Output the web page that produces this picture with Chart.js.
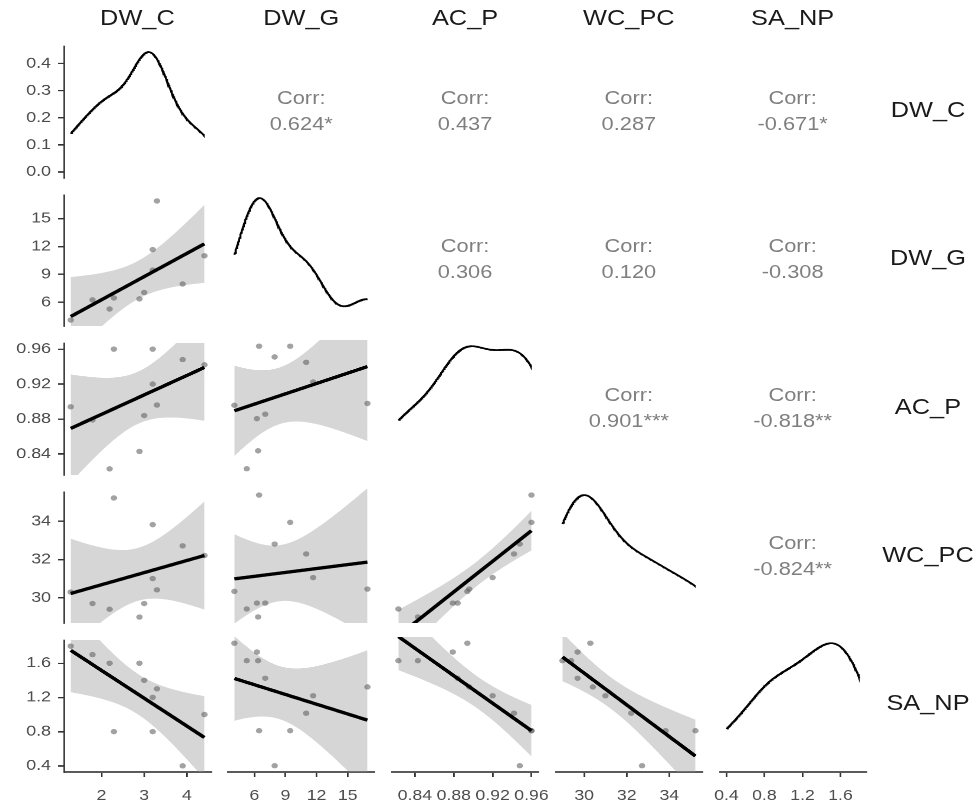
<!DOCTYPE html>
<html><head><meta charset="utf-8">
<script src="https://cdn.jsdelivr.net/npm/chart.js@4.4.1/dist/chart.umd.min.js"></script>
<style>
html,body{margin:0;padding:0;background:#fff;overflow:hidden;width:978px;height:802px;}
#wrap{position:absolute;left:0;top:0;width:829px;height:802px;transform:scaleX(1.18);transform-origin:0 0;font-family:"Liberation Sans",Arial,sans-serif;}
#wrap canvas{position:absolute;}
.lab{position:absolute;white-space:nowrap;transform:translate(-50%,-50%);line-height:1;}
.hdr{font-size:21.5px;color:#1a1a1a;}
.corr{font-size:18.5px;color:#7f7f7f;text-align:center;}
</style></head><body><div id="wrap"></div>
<script>
// ---- data (one value per observation) ----
const variables = ["DW_C", "DW_G", "AC_P", "WC_PC", "SA_NP"];
const DW_C  = [1.28, 1.79, 2.19, 2.29, 2.89, 3.00, 3.20, 3.20, 3.30, 3.90, 4.41];
const DW_G  = [4.08, 6.25, 5.27, 6.46, 6.36, 7.05, 9.46, 11.67, 16.90, 7.96, 11.00];
const AC_P  = [0.894, 0.879, 0.823, 0.960, 0.843, 0.884, 0.960, 0.920, 0.896, 0.948, 0.942];
const WC_PC = [30.29, 29.69, 29.39, 35.23, 28.98, 29.69, 33.83, 31.00, 30.41, 32.72, 32.21];
const SA_NP = [1.8, 1.7, 1.6, 0.8, 1.6, 1.4, 0.8, 1.2, 1.3, 0.4, 1.0];

// correlation labels (upper triangle, row-major: [row][col])
const corrRow1 = ["", "0.624*", "0.437", "0.287", "-0.671*"];
const corrRow2 = ["", "", "0.306", "0.120", "-0.308"];
const corrRow3 = ["", "", "", "0.901***", "-0.818**"];
const corrRow4 = ["", "", "", "", "-0.824**"];

// tick values and labels
const ticksDW_C  = [2, 3, 4];           const labelsDW_C  = ["2", "3", "4"];
const ticksDW_G  = [6, 9, 12, 15];      const labelsDW_G  = ["6", "9", "12", "15"];
const ticksAC_P  = [0.84, 0.88, 0.92, 0.96]; const labelsAC_P = ["0.84", "0.88", "0.92", "0.96"];
const ticksWC_PC = [30, 32, 34];        const labelsWC_PC = ["30", "32", "34"];
const ticksSA_NP = [0.4, 0.8, 1.2, 1.6]; const labelsSA_NP = ["0.4", "0.8", "1.2", "1.6"];
const ticksDensity = [0, 0.1, 0.2, 0.3, 0.4]; const labelsDensity = ["0.0", "0.1", "0.2", "0.3", "0.4"];

// ---- build ----
const values = [DW_C, DW_G, AC_P, WC_PC, SA_NP];
const tickSets = [ticksDW_C, ticksDW_G, ticksAC_P, ticksWC_PC, ticksSA_NP];
const labelSets = [labelsDW_C, labelsDW_G, labelsAC_P, labelsWC_PC, labelsSA_NP];
const corrRows = [corrRow1, corrRow2, corrRow3, corrRow4];

const S = 1.18;
const ML = 48, MR = 20, MT = 12, MB = 30;
const colLeft = i => (64.2 + 163.8 * i) / S;
const colW = 146.5 / S;
const rowTop = j => 43.3 + 148.4 * j;
const rowH = 134.8;
const wrap = document.getElementById('wrap');

function range(a) {
  const mn = Math.min(...a), mx = Math.max(...a), r = mx - mn;
  return [mn - 0.05 * r, mx + 0.05 * r];
}
function quantile(sorted, p) {
  const h = (sorted.length - 1) * p, lo = Math.floor(h);
  return lo + 1 < sorted.length ? sorted[lo] + (h - lo) * (sorted[lo + 1] - sorted[lo]) : sorted[lo];
}
function kde(a) {
  const n = a.length, m = a.reduce((s, v) => s + v, 0) / n;
  const sd = Math.sqrt(a.reduce((s, v) => s + (v - m) ** 2, 0) / (n - 1));
  const srt = [...a].sort((x, y) => x - y);
  const iqr = quantile(srt, 0.75) - quantile(srt, 0.25);
  const bw = 0.9 * Math.min(sd, iqr / 1.34) * Math.pow(n, -0.2);
  const mn = srt[0], mx = srt[n - 1], pts = [];
  for (let k = 0; k <= 255; k++) {
    const x = mn + (mx - mn) * k / 255;
    let s = 0;
    for (const v of a) s += Math.exp(-0.5 * ((x - v) / bw) ** 2);
    pts.push({ x, y: s / (n * bw * Math.sqrt(2 * Math.PI)) });
  }
  return pts;
}
function lmFit(xs, ys) {
  const n = xs.length;
  const mx = xs.reduce((s, v) => s + v, 0) / n, my = ys.reduce((s, v) => s + v, 0) / n;
  let sxx = 0, sxy = 0;
  for (let k = 0; k < n; k++) { sxx += (xs[k] - mx) ** 2; sxy += (xs[k] - mx) * (ys[k] - my); }
  const b = sxy / sxx, a = my - b * mx;
  let sse = 0;
  for (let k = 0; k < n; k++) sse += (ys[k] - a - b * xs[k]) ** 2;
  const s2 = sse / (n - 2), t = 2.262157;
  const lo = Math.min(...xs), hi = Math.max(...xs);
  const fit = [], up = [], dn = [];
  for (let k = 0; k <= 80; k++) {
    const x = lo + (hi - lo) * k / 80, yh = a + b * x;
    const se = Math.sqrt(s2 * (1 / n + (x - mx) ** 2 / sxx));
    fit.push({ x, y: yh }); up.push({ x, y: yh + t * se }); dn.push({ x, y: yh - t * se });
  }
  return { fit, up, dn };
}
function axisCfg(mn, mx, show, ticks, labels, isX) {
  return {
    type: 'linear', min: mn, max: mx, display: show,
    afterBuildTicks: s => { s.ticks = ticks.map(v => ({ value: v })); },
    afterFit: s => { if (!show) return; if (isX) s.height = MB; else s.width = ML; },
    grid: { display: true, drawOnChartArea: false, drawTicks: true, tickLength: 5, color: '#333333', lineWidth: 1.4 },
    border: { display: true, color: '#333333', width: 1.4 },
    ticks: { font: { family: 'Liberation Sans', size: 15 }, color: '#4d4d4d', padding: isX ? 10 : 6,
             autoSkip: false, maxRotation: 0, callback: (v, idx) => labels[idx] }
  };
}
function panel(i, j, datasets, xr, yr, yTicks, yLabels) {
  const showX = j === 4, showY = i === 0;
  const c = document.createElement('canvas');
  const w = colW + ML + MR, h = rowH + MT + MB;
  c.style.left = (colLeft(i) - ML) + 'px'; c.style.top = (rowTop(j) - MT) + 'px';
  c.style.width = w + 'px'; c.style.height = h + 'px';
  c.width = w; c.height = h;
  wrap.appendChild(c);
  new Chart(c, {
    type: 'line',
    data: { datasets },
    options: {
      responsive: false, animation: false, devicePixelRatio: 2,
      layout: { padding: { left: showY ? 0 : ML, right: MR, top: MT, bottom: showX ? 0 : MB } },
      plugins: { legend: { display: false }, tooltip: { enabled: false } },
      events: [],
      scales: {
        x: axisCfg(xr[0], xr[1], showX, tickSets[i], labelSets[i], true),
        y: axisCfg(yr[0], yr[1], showY, yTicks, yLabels, false)
      }
    }
  });
}
function text(cls, x, y, str) {
  const d = document.createElement('div');
  d.className = 'lab ' + cls; d.style.left = x + 'px'; d.style.top = y + 'px';
  d.textContent = str; wrap.appendChild(d);
}

for (let j = 0; j < 5; j++) {
  for (let i = 0; i < 5; i++) {
    const xr = range(values[i]);
    if (i === j) {
      const d = kde(values[i]);
      const peak = Math.max(...d.map(p => p.y));
      panel(i, j, [{ data: d, borderColor: '#000', borderWidth: 1.8, pointRadius: 0, fill: false, tension: 0, clip: 0 }],
        xr, [-0.05 * peak, 1.05 * peak], j === 0 ? ticksDensity : tickSets[j], j === 0 ? labelsDensity : labelSets[j]);
    } else if (j > i) {
      const xs = values[i], ys = values[j];
      const pts = xs.map((x, k) => ({ x, y: ys[k] }));
      const m = lmFit(xs, ys);
      panel(i, j, [
        { data: m.fit, borderColor: '#000', borderWidth: 3.3, pointRadius: 0, fill: false, tension: 0, clip: 0 },
        { data: pts, showLine: false, pointRadius: 2.7, pointBorderWidth: 0, pointBackgroundColor: 'rgba(100,100,100,0.6)', clip: false },
        { data: m.up, borderWidth: 0, pointRadius: 0, backgroundColor: 'rgba(153,153,153,0.4)', fill: '+1', tension: 0, clip: 0 },
        { data: m.dn, borderWidth: 0, pointRadius: 0, fill: false, tension: 0, clip: 0 }
      ], xr, range(ys), tickSets[j], labelSets[j]);
    } else {
      const cx = colLeft(i) + colW / 2, cy = rowTop(j) + rowH / 2;
      text('corr', cx, cy - 13, 'Corr:');
      text('corr', cx, cy + 13, corrRows[j][i]);
    }
  }
}
variables.forEach((v, k) => {
  text('hdr', colLeft(k) + colW / 2, 19, v);
  text('hdr', 928 / S, rowTop(k) + rowH / 2, v);
});
</script></body></html>
